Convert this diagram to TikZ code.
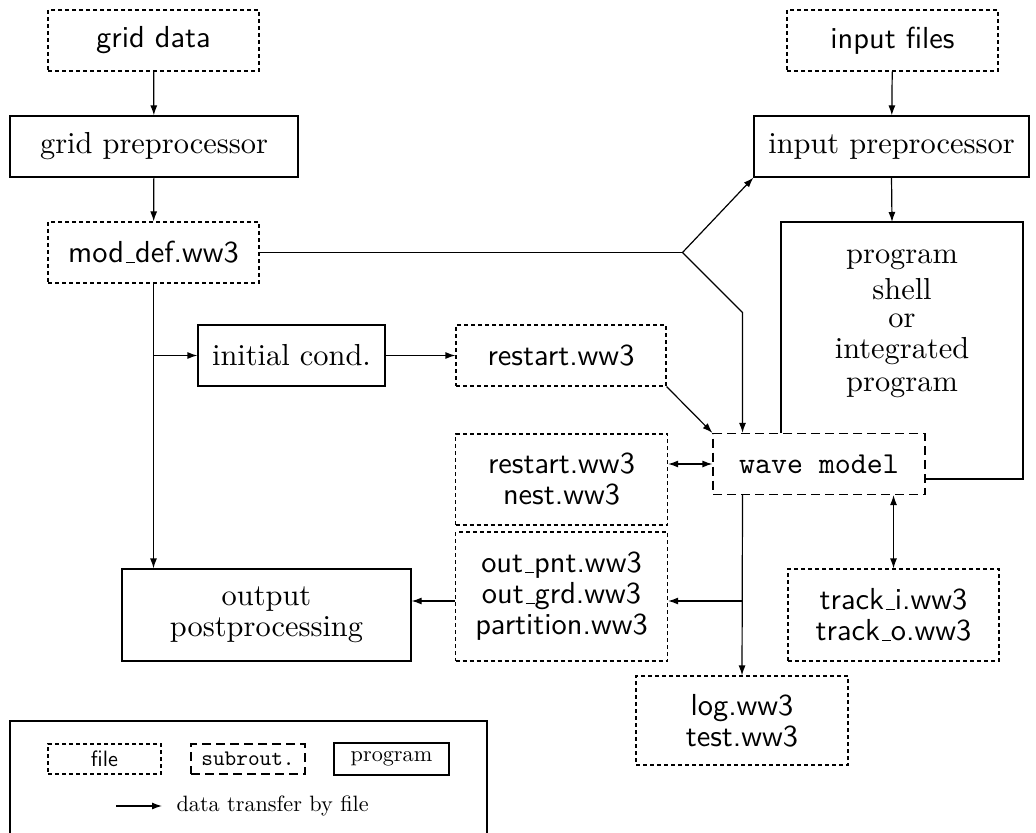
\documentclass[tikz,border=0pt]{standalone}
\usepackage{fontspec}
\setmainfont{lmroman10-regular.otf}
\setsansfont{lmsans10-regular.otf}
\setmonofont{lmmono10-regular.otf}
\usetikzlibrary{arrows.meta}
\newcommand\bigfs{\fontsize{15.2}{15.5}\selectfont}
\newcommand\legfs{\fontsize{11.1}{12}\selectfont}
\newcommand\us{\leavevmode\kern.06em\vbox{\hrule width .3em height 0.5pt}}
\begin{document}
\begin{tikzpicture}[x=0.5pt,y=-0.5pt,line width=0.6pt,
  filebox/.style={draw, dash pattern=on 2pt off 1.5pt, font=\sffamily\bigfs, align=center, inner sep=0pt},
  subbox/.style={draw, dash pattern=on 4.5pt off 2.5pt, font=\ttfamily\bigfs, align=center, inner sep=0pt},
  progbox/.style={draw, font=\rmfamily\bigfs, align=center, inner sep=0pt},
  ptext/.style={font=\rmfamily\bigfs, anchor=base, inner sep=0pt},
  arr/.style={-{Latex[length=5pt,width=3.5pt]}},
  darr/.style={{Latex[length=5pt,width=3.5pt]}-{Latex[length=5pt,width=3.5pt]}}]
\useasboundingbox (0,0) rectangle (1036,833);
% nodes
\node[filebox, minimum width=105.5pt, minimum height=30.5pt] (gd) at (153.5,40.5) {grid data};
\node[progbox, minimum width=144pt, minimum height=30.5pt] (gp) at (154,146.5) {grid preprocessor};
\node[filebox, minimum width=105.5pt, minimum height=30.5pt] (md) at (153.5,252.5) {mod\us def.ww3};
\node[filebox, minimum width=105.5pt, minimum height=30.5pt] (inf) at (892.5,40.5) {input files};
\node[progbox, minimum width=137.5pt, minimum height=30.5pt] (ip) at (891.5,146.5) {input preprocessor};
\node[subbox, minimum width=106pt, minimum height=30.5pt] (wm) at (819,464) {wave model};
\node[progbox, minimum width=93.5pt, minimum height=30.5pt] (ic) at (291.5,355.5) {initial cond.};
\node[filebox, minimum width=105pt, minimum height=30.5pt] (rs) at (561,355.5) {restart.ww3};
\node[filebox, minimum width=106pt, minimum height=45.5pt] (rn) at (561.5,479.5) {restart.ww3\\nest.ww3};
\node[filebox, minimum width=106pt, minimum height=64.5pt] (out) at (561.5,596.5) {out\us pnt.ww3\\out\us grd.ww3\\partition.ww3};
\node[progbox, minimum width=144.5pt, minimum height=46pt] (op) at (266.5,615) {output\\postprocessing};
\node[filebox, minimum width=106pt, minimum height=44.5pt] (lt) at (742,720.5) {log.ww3\\test.ww3};
\node[filebox, minimum width=105.5pt, minimum height=46pt] (tr) at (893.5,615) {track\us i.ww3\\track\us o.ww3};
% program shell box
\coordinate (pa) at (781,222);
\coordinate (pb) at (1023,222);
\coordinate (pc) at (1023,479);
\coordinate (ptop) at (892,222);
\draw (wm.north -| pa) -- (pa) -- (pb) -- (pc) -- (pc -| wm.east);
\node[ptext] (pt1) at (902,264) {program};
\node[ptext] (pt2) at (902,300) {shell};
\node[ptext] (pt3) at (902,327.7) {or};
\node[ptext] (pt4) at (902,358) {integrated};
\node[ptext] (pt5) at (902,391.7) {program};
% connectors
\draw[arr] (gd) -- (gp);
\draw[arr] (gp) -- (md);
\draw[arr] (inf) -- (ip);
\draw[arr] (ip.south) -- (ptop);
\coordinate (br) at (682.5,252.5);
\coordinate (bk) at (742.5,312.5);
\draw (md.east) -- (br);
\draw[arr] (br) -- (ip.south west);
\draw[arr] (br) -- (bk) -- (bk |- wm.north);
\draw[arr] (md.south) -- (md.south |- op.north);
\draw[arr] (md.south |- ic.west) -- (ic.west);
\draw[arr] (ic.east) -- (rs.west);
\draw[arr] (rs.south east) -- (wm.north west);
\draw[darr] (rn.east |- wm.west) -- (wm.west);
\draw[arr] (bk |- wm.south) -- (lt.north);
\coordinate (b3) at (742.5,601);
\draw[arr] (b3) -- (b3 -| out.east);
\draw[arr] (out.west |- b3) -- (b3 -| op.east);
\draw[darr] (tr.north) -- (tr.north |- wm.south);
% legend
\draw (10,721) rectangle (487,845);
\node[filebox, font=\sffamily\legfs, minimum width=56.5pt, minimum height=15pt] (lf) at (104.5,759) {file};
\node[subbox, font=\ttfamily\legfs, minimum width=57pt, minimum height=15pt] (ls) at (248,759) {subrout.};
\node[progbox, font=\rmfamily\legfs, minimum width=57.5pt, minimum height=16pt] (lp) at (391.5,759) {program};
\coordinate (la) at (116,806);
\coordinate (lb) at (162,806);
\draw[arr] (la) -- (lb);
\node[font=\rmfamily\legfs, anchor=west, inner sep=0pt] (lt2) at (176,806) {data transfer by file};
\end{tikzpicture}
\end{document}
